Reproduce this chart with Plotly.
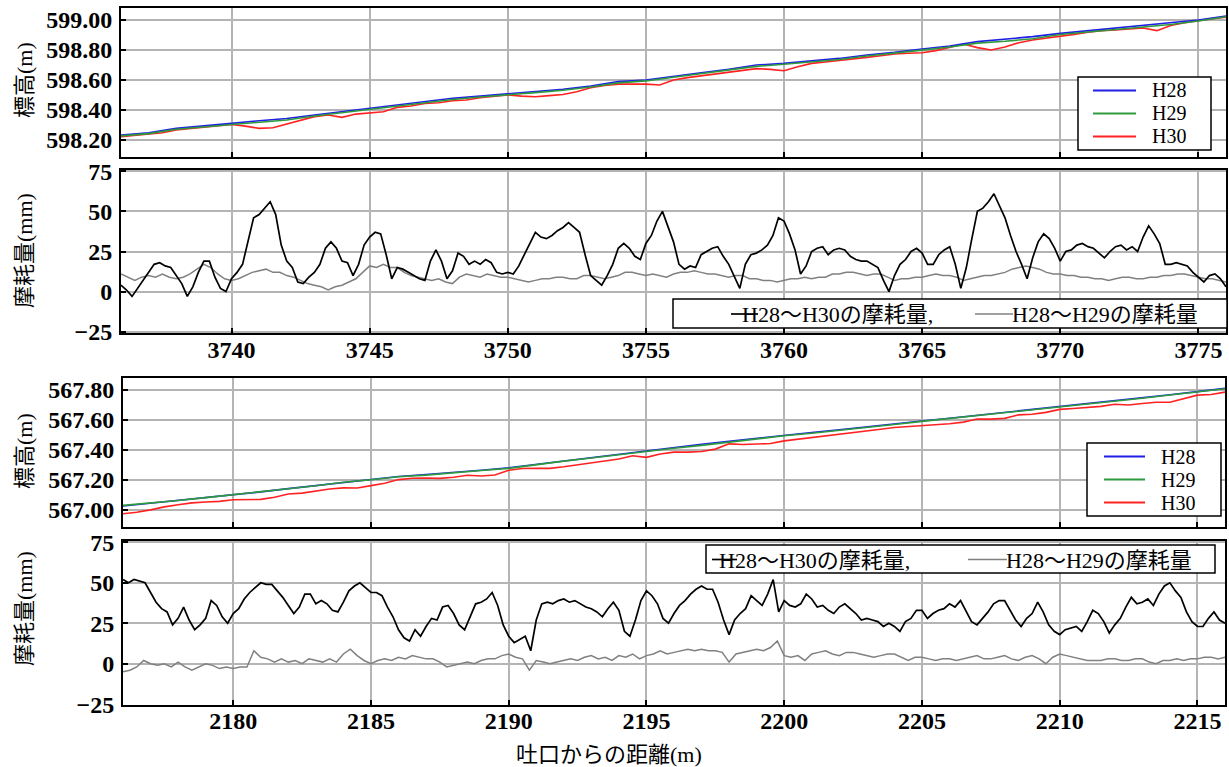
import numpy as np
import plotly.graph_objects as go

W, H = 1229, 767

# ---- Section A: 3736–3776 m ----
xa_range = [3736, 3776]
elev_a_h28 = [598.233, 598.249, 598.278, 598.293, 598.311, 598.329, 598.344, 598.367, 598.389, 598.411,
              598.430, 598.456, 598.478, 598.493, 598.507, 598.522, 598.538, 598.560, 598.589, 598.600,
              598.627, 598.649, 598.671, 598.700, 598.711, 598.728, 598.744, 598.767, 598.784, 598.807,
              598.827, 598.856, 598.871, 598.889, 598.911, 598.929, 598.944, 598.960, 598.978, 599.000,
              599.027]
elev_a_h29 = [598.228, 598.243, 598.272, 598.288, 598.305, 598.318, 598.334, 598.360, 598.382, 598.402,
              598.424, 598.449, 598.470, 598.487, 598.500, 598.516, 598.532, 598.553, 598.581, 598.594,
              598.619, 598.643, 598.664, 598.691, 598.705, 598.721, 598.737, 598.760, 598.778, 598.799,
              598.820, 598.846, 598.858, 598.875, 598.903, 598.922, 598.937, 598.953, 598.970, 598.993,
              599.022]
elev_a_h30 = [598.222, 598.231, 598.238, 598.249, 598.267, 598.276, 598.289, 598.298, 598.304, 598.293,
              598.278, 598.282, 598.307, 598.333, 598.356, 598.367, 598.351, 598.373, 598.382, 598.389,
              598.418, 598.427, 598.444, 598.449, 598.462, 598.467, 598.482, 598.493, 598.500, 598.493,
              598.489, 598.496, 598.504, 598.522, 598.549, 598.564, 598.573, 598.573, 598.573, 598.567,
              598.600, 598.616, 598.627, 598.638, 598.653, 598.662, 598.676, 598.671, 598.662, 598.689,
              598.711, 598.720, 598.729, 598.740, 598.751, 598.762, 598.773, 598.778, 598.782, 598.796,
              598.816, 598.840, 598.816, 598.800, 598.820, 598.849, 598.867, 598.878, 598.893, 598.904,
              598.918, 598.929, 598.933, 598.940, 598.947, 598.929, 598.964, 598.982, 598.998, 599.009,
              599.018]
wear_a_h30 = [4, 1, -3, 2, 7, 12, 17, 18, 16, 15, 10, 5, -3, 3, 12, 19, 19, 9, 2, 0,
              8, 12, 17, 31, 46, 48, 52, 56, 48, 29, 19, 15, 6, 5, 9, 12, 17, 27, 31, 27,
              19, 18, 10, 17, 29, 34, 37, 36, 23, 8, 15, 14, 12, 10, 8, 7, 19, 26, 19, 8,
              13, 24, 22, 17, 19, 17, 20, 18, 12, 11, 12, 11, 16, 23, 30, 37, 34, 33, 35, 38,
              40, 43, 40, 37, 23, 10, 7, 4, 10, 17, 27, 30, 27, 22, 20, 30, 35, 44, 50, 41,
              31, 17, 14, 16, 15, 23, 25, 27, 28, 22, 17, 10, 2, 17, 23, 24, 26, 29, 35, 46,
              44, 36, 26, 11, 16, 25, 27, 28, 23, 26, 27, 26, 22, 20, 19, 19, 17, 15, 7, 0,
              10, 17, 20, 25, 27, 24, 17, 17, 23, 26, 28, 17, 2, 15, 33, 50, 52, 56, 61, 54,
              46, 35, 25, 17, 8, 21, 31, 36, 33, 27, 19, 25, 26, 29, 30, 28, 27, 24, 21, 25,
              28, 29, 26, 28, 25, 34, 41, 36, 30, 17, 17, 18, 17, 16, 12, 9, 6, 10, 11, 8,
              3]
wear_a_h29 = [11, 9, 7, 9, 10, 9, 11, 9, 8, 9, 11, 14, 17, 15, 11, 8, 7, 8, 10, 12,
              13, 14, 12, 12, 10, 9, 7, 5, 4, 3, 1, 3, 4, 6, 8, 12, 16, 15, 17, 15,
              15, 12, 10, 9, 8, 7, 8, 6, 5, 9, 11, 10, 9, 11, 10, 9, 9, 8, 7, 6,
              7, 8, 8, 9, 9, 8, 8, 10, 10, 9, 8, 9, 10, 12, 12, 11, 10, 11, 10, 9,
              11, 12, 12, 13, 12, 11, 11, 10, 9, 10, 10, 8, 8, 7, 7, 6, 7, 8, 8, 9,
              8, 9, 9, 11, 11, 12, 12, 11, 10, 11, 11, 9, 7, 8, 8, 9, 9, 10, 11, 10,
              10, 9, 7, 8, 9, 10, 10, 11, 12, 14, 15, 16, 15, 14, 12, 11, 11, 10, 10, 9,
              9, 8, 8, 7, 8, 9, 9, 8, 8, 9, 9, 10, 10, 11, 11, 10, 9, 8, 8, 7,
              6]

# ---- Section B: 2176–2216 m ----
xb_range = [2176, 2216]
elev_b_h28 = [567.027, 567.045, 567.063, 567.082, 567.100, 567.121, 567.143, 567.164, 567.186, 567.207,
              567.224, 567.237, 567.250, 567.265, 567.282, 567.305, 567.328, 567.350, 567.373, 567.396,
              567.417, 567.438, 567.459, 567.480, 567.500, 567.517, 567.535, 567.553, 567.573, 567.593,
              567.612, 567.631, 567.650, 567.669, 567.689, 567.710, 567.729, 567.748, 567.768, 567.789,
              567.811]
elev_b_h29 = [567.031, 567.046, 567.064, 567.083, 567.102, 567.118, 567.142, 567.162, 567.185, 567.202,
              567.222, 567.233, 567.250, 567.264, 567.278, 567.303, 567.326, 567.347, 567.370, 567.392,
              567.412, 567.431, 567.454, 567.473, 567.495, 567.512, 567.530, 567.549, 567.570, 567.591,
              567.610, 567.628, 567.647, 567.667, 567.687, 567.707, 567.727, 567.745, 567.767, 567.787,
              567.808]
elev_b_h30 = [566.975, 566.985, 567.001, 567.021, 567.035, 567.048, 567.054, 567.058, 567.069, 567.068,
              567.071, 567.085, 567.107, 567.113, 567.127, 567.140, 567.148, 567.147, 567.163, 567.178,
              567.203, 567.212, 567.214, 567.211, 567.219, 567.232, 567.227, 567.233, 567.265, 567.277,
              567.278, 567.278, 567.288, 567.301, 567.316, 567.330, 567.340, 567.362, 567.351, 567.374,
              567.386, 567.386, 567.390, 567.406, 567.441, 567.437, 567.441, 567.443, 567.461, 567.472,
              567.479, 567.492, 567.500, 567.512, 567.525, 567.538, 567.550, 567.556, 567.560, 567.570,
              567.575, 567.586, 567.607, 567.606, 567.611, 567.634, 567.638, 567.651, 567.671, 567.677,
              567.684, 567.691, 567.705, 567.700, 567.710, 567.718, 567.718, 567.741, 567.766, 567.770,
              567.786]
wear_b_h30 = [52, 50, 52, 51, 50, 44, 38, 34, 32, 24, 28, 35, 27, 21, 24, 28, 39, 36, 29, 25,
              31, 34, 40, 44, 47, 50, 49, 49, 45, 41, 36, 31, 35, 43, 43, 37, 39, 37, 33, 32,
              38, 45, 48, 50, 47, 44, 44, 42, 35, 29, 21, 16, 14, 21, 17, 23, 28, 27, 35, 36,
              31, 24, 21, 29, 37, 38, 40, 44, 36, 24, 17, 13, 15, 17, 8, 27, 37, 38, 37, 39,
              40, 38, 39, 37, 35, 34, 32, 29, 34, 38, 33, 20, 17, 27, 39, 45, 42, 37, 28, 25,
              31, 36, 39, 43, 46, 48, 46, 46, 38, 27, 18, 27, 31, 34, 42, 39, 36, 43, 52, 32,
              39, 36, 35, 37, 43, 40, 35, 36, 33, 31, 35, 37, 34, 31, 27, 28, 27, 26, 23, 25,
              23, 20, 26, 28, 33, 33, 28, 31, 33, 34, 37, 35, 39, 32, 26, 24, 28, 32, 37, 39,
              39, 33, 27, 23, 28, 31, 38, 32, 24, 20, 18, 21, 22, 23, 20, 26, 33, 31, 26, 19,
              24, 28, 35, 41, 37, 38, 40, 36, 43, 48, 50, 45, 41, 32, 26, 23, 23, 28, 32, 27,
              25]
wear_b_h29 = [-5, -4, -2, 2, 0, -1, 0, -2, 1, -2, -4, -2, 0, -1, -3, -2, -3, -2, -2, 8,
              4, 3, 1, 3, 1, 2, 0, 3, 2, 1, 3, 1, 6, 9, 5, 2, 0, 2, 3, 2,
              4, 3, 5, 4, 3, 3, 1, -2, -1, 0, 1, 0, 2, 3, 3, 5, 6, 4, 3, -4,
              2, 1, 0, 1, 2, 3, 2, 4, 5, 3, 4, 2, 5, 4, 6, 3, 5, 6, 8, 6,
              7, 8, 9, 8, 9, 8, 8, 7, 1, 6, 7, 8, 9, 8, 10, 14, 5, 4, 5, 2,
              6, 7, 8, 6, 5, 7, 7, 6, 5, 4, 5, 6, 6, 4, 2, 4, 4, 3, 2, 3,
              3, 2, 3, 4, 5, 3, 3, 4, 5, 3, 2, 4, 5, 3, 0, 4, 6, 5, 4, 3,
              2, 2, 2, 3, 3, 2, 2, 3, 3, 1, 0, 2, 2, 3, 2, 3, 3, 4, 4, 3,
              4]

elev_ticks_a = [598.2, 598.4, 598.6, 598.8, 599.0]
elev_ticks_b = [567.0, 567.2, 567.4, 567.6, 567.8]
wear_ticks = [-25, 0, 25, 50, 75]
dist_ticks_a = [3740, 3745, 3750, 3755, 3760, 3765, 3770, 3775]
dist_ticks_b = [2180, 2185, 2190, 2195, 2200, 2205, 2210, 2215]

elev_names = ["H28", "H29", "H30"]
wear_names = ["H28～H30の摩耗量,", "H28～H29の摩耗量"]

C_H28, C_H29, C_H30 = "#1f1fe6", "#2e9a3e", "#ff2222"
C_W30, C_W29 = "#000000", "#808080"

SERIF = "Liberation Serif, Noto Sans CJK JP"
JP = "Noto Sans CJK JP, sans-serif"


def xs(rng, vals):
    return np.linspace(rng[0], rng[1], len(vals))


fig = go.Figure()

# elevation panels (red drawn first so the H28/H29 pair stays on top)
for rng, h28, h29, h30, xa, ya in [
        (xa_range, elev_a_h28, elev_a_h29, elev_a_h30, "x", "y"),
        (xb_range, elev_b_h28, elev_b_h29, elev_b_h30, "x3", "y3")]:
    fig.add_trace(go.Scatter(x=xs(rng, h30), y=h30, mode="lines", name=elev_names[2],
                             line=dict(color=C_H30, width=1.6), xaxis=xa, yaxis=ya))
    fig.add_trace(go.Scatter(x=xs(rng, h28), y=h28, mode="lines", name=elev_names[0],
                             line=dict(color=C_H28, width=1.6), xaxis=xa, yaxis=ya))
    fig.add_trace(go.Scatter(x=xs(rng, h29), y=h29, mode="lines", name=elev_names[1],
                             line=dict(color=C_H29, width=1.6), xaxis=xa, yaxis=ya))

# wear panels
for rng, w30, w29, xa, ya in [
        (xa_range, wear_a_h30, wear_a_h29, "x2", "y2"),
        (xb_range, wear_b_h30, wear_b_h29, "x4", "y4")]:
    fig.add_trace(go.Scatter(x=xs(rng, w29), y=w29, mode="lines", name=wear_names[1],
                             line=dict(color=C_W29, width=1.5), xaxis=xa, yaxis=ya))
    fig.add_trace(go.Scatter(x=xs(rng, w30), y=w30, mode="lines", name=wear_names[0],
                             line=dict(color=C_W30, width=1.7), xaxis=xa, yaxis=ya))


def dom_y(top, bottom):
    return [1 - bottom / H, 1 - top / H]


tick_font = dict(family="Liberation Serif", size=24, color="black", weight="bold")
grid = dict(showgrid=True, gridcolor="#b4b4b4", gridwidth=1.5, zeroline=False,
            showline=True, linecolor="black", linewidth=2, mirror=True, automargin=False,
            ticks="inside", ticklen=5, tickwidth=2, tickcolor="black", tickfont=tick_font)

dom_a = [121 / W, 1226 / W]
dom_b = [123 / W, 1225 / W]

fig.update_layout(
    width=W, height=H,
    margin=dict(l=0, r=0, t=0, b=0, autoexpand=False),
    paper_bgcolor="white", plot_bgcolor="white",
    showlegend=False,
    xaxis=dict(domain=dom_a, range=xa_range, anchor="y", tickvals=dist_ticks_a,
               showticklabels=False, **grid),
    yaxis=dict(domain=dom_y(8, 157), range=[598.087, 599.08], anchor="x",
               tickvals=elev_ticks_a, tickformat=".2f", ticklabelstandoff=2, **grid),
    xaxis2=dict(domain=dom_a, range=xa_range, anchor="y2", tickvals=dist_ticks_a,
                ticklabelstandoff=-6, **grid),
    yaxis2=dict(domain=dom_y(170, 333), range=[-25.8, 75.8], anchor="x2",
                tickvals=wear_ticks, ticklabelstandoff=2, **grid),
    xaxis3=dict(domain=dom_b, range=xb_range, anchor="y3", tickvals=dist_ticks_b,
                showticklabels=False, **grid),
    yaxis3=dict(domain=dom_y(378, 527), range=[566.887, 567.88], anchor="x3",
                tickvals=elev_ticks_b, tickformat=".2f", ticklabelstandoff=2, **grid),
    xaxis4=dict(domain=dom_b, range=xb_range, anchor="y4", tickvals=dist_ticks_b,
                ticklabelstandoff=-7, **grid),
    yaxis4=dict(domain=dom_y(541, 705), range=[-25.5, 75.8], anchor="x4",
                tickvals=wear_ticks, ticklabelstandoff=2, **grid),
)


def px_x(v):
    return v / W


def px_y(v):
    return 1 - v / H


def legend_box(x0, y0, x1, y1):
    fig.add_shape(type="rect", xref="paper", yref="paper",
                  x0=px_x(x0), x1=px_x(x1), y0=px_y(y1), y1=px_y(y0),
                  line=dict(color="black", width=1.5), fillcolor="white", layer="above")


def legend_entry(lx0, lx1, ly, color, width, tx, text, size, box_h):
    fig.add_shape(type="line", xref="paper", yref="paper",
                  x0=px_x(lx0), x1=px_x(lx1), y0=px_y(ly), y1=px_y(ly),
                  line=dict(color=color, width=width), layer="above")
    fig.add_annotation(x=px_x(tx), y=px_y(ly), xref="paper", yref="paper", text=text,
                       showarrow=False, xanchor="left", yanchor="middle", borderpad=0,
                       height=box_h, valign="middle",
                       font=dict(family=SERIF, size=size, color="black"))


# vertical legends of the elevation panels
for (bx0, by0, bx1, by1), lx0, lx1, tx, rows in [
        ((1078, 77, 1211, 150), 1093, 1136, 1151, (90.5, 113.5, 136.5)),
        ((1087, 443, 1221, 516), 1104, 1145, 1160, (456.5, 479.5, 502.5))]:
    legend_box(bx0, by0, bx1, by1)
    for name, color, ry in zip(elev_names, (C_H28, C_H29, C_H30), rows):
        legend_entry(lx0, lx1, ry, color, 1.8, tx, name, 20, 20)

# horizontal legends of the wear panels
for (bx0, by0, bx1, by1), l1, t1, l2, t2 in [
        ((673, 299, 1227, 328), (731, 758), 741, (975, 1013), 1011),
        ((706, 545, 1215, 573), (712, 737), 718, (968, 1007), 1005)]:
    legend_box(bx0, by0, bx1, by1)
    cy = (by0 + by1) / 2 + 0.5
    legend_entry(l1[0], l1[1], cy, C_W30, 1.7, t1, wear_names[0], 22, 26)
    legend_entry(l2[0], l2[1], cy, C_W29, 1.5, t2, wear_names[1], 22, 26)

ser = "<span style='font-family:Liberation Serif'>"
for ax, ay, txt in [
        (22, 80, "標高" + ser + "(m)</span>"),
        (22, 251, "摩耗量" + ser + "(mm)</span>"),
        (22, 451, "標高" + ser + "(m)</span>"),
        (22, 609, "摩耗量" + ser + "(mm)</span>")]:
    fig.add_annotation(x=px_x(ax), y=px_y(ay), xref="paper", yref="paper", text=txt,
                       textangle=-90, showarrow=False, xanchor="center", yanchor="middle",
                       font=dict(family=JP, size=22, color="black"))
fig.add_annotation(x=px_x(609), y=px_y(752), xref="paper", yref="paper",
                   text="吐口からの距離" + ser + "(m)</span>", showarrow=False,
                   xanchor="center", yanchor="middle",
                   font=dict(family=JP, size=22, color="black"))

fig.write_html("out.html")
